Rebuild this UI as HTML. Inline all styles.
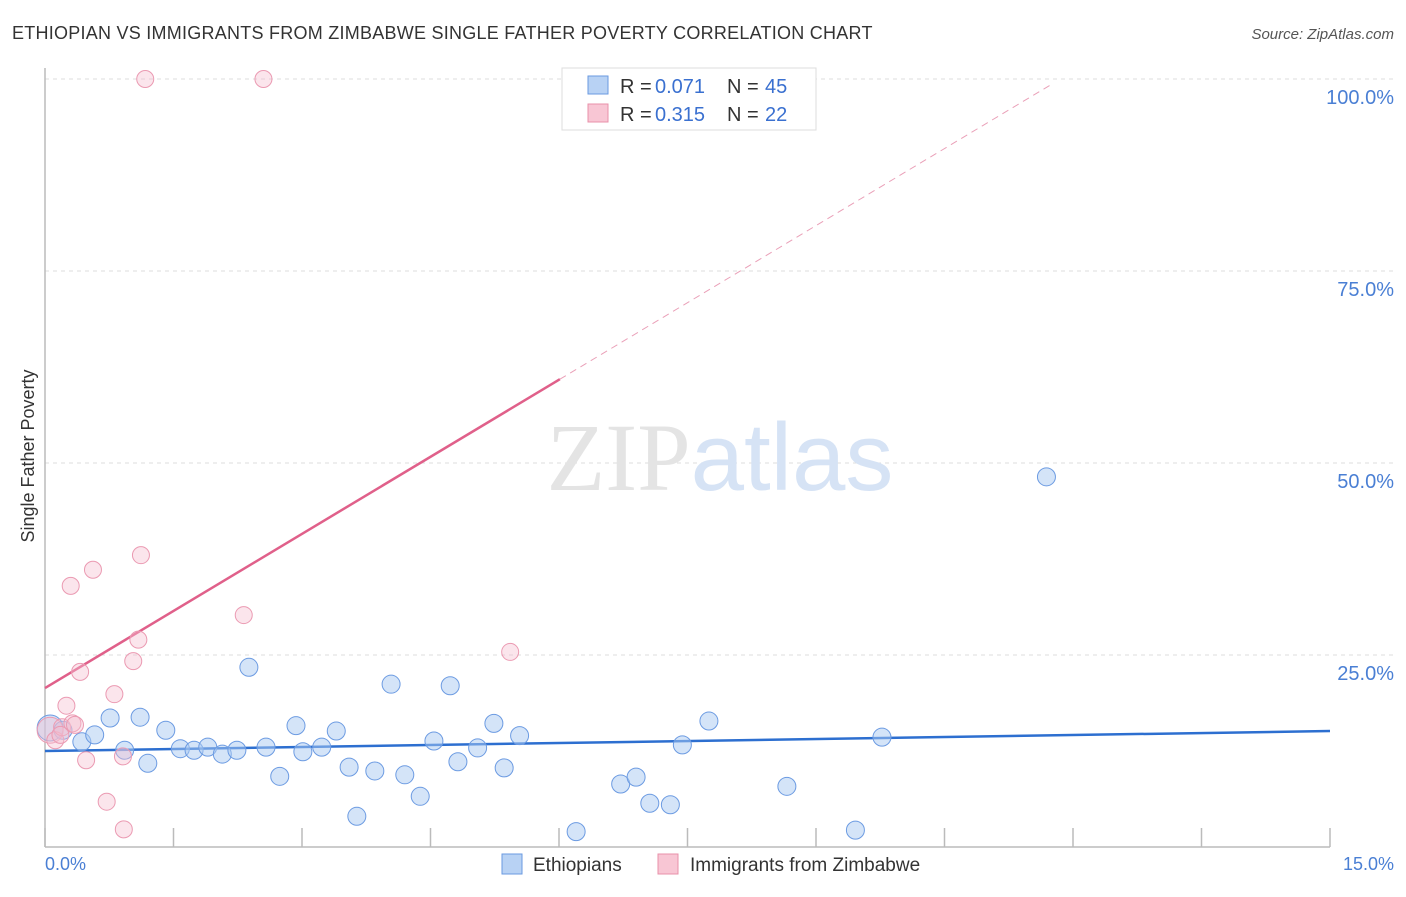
<!DOCTYPE html>
<html><head><meta charset="utf-8"><style>
body{margin:0;background:#fff;font-family:"Liberation Sans",sans-serif}
</style></head><body>
<svg id="chart" width="1406" height="892" xmlns="http://www.w3.org/2000/svg" style="font-family:'Liberation Sans',sans-serif">
<text x="12" y="39" font-size="18" letter-spacing="0.25" fill="#333">ETHIOPIAN VS IMMIGRANTS FROM ZIMBABWE SINGLE FATHER POVERTY CORRELATION CHART</text>
<text x="1394" y="39" font-size="15" fill="#555" text-anchor="end" font-style="italic">Source: ZipAtlas.com</text>
<g id="grid"></g>
<text x="720" y="490" font-size="96" text-anchor="middle" fill="#e4e4e4" font-family="Liberation Serif,serif">ZIP<tspan fill="#d6e3f5" font-family="Liberation Sans,sans-serif">atlas</tspan></text>
<line x1="45" y1="68" x2="45" y2="847" stroke="#bbb" stroke-width="1.5"/>
<line x1="45" y1="847" x2="1330" y2="847" stroke="#bbb" stroke-width="1.5"/>
<text transform="translate(34,456) rotate(-90)" font-size="18" fill="#333" text-anchor="middle">Single Father Poverty</text>
<text x="45" y="870" font-size="18" fill="#4a7fd4">0.0%</text>
<text x="1394" y="870" font-size="18" fill="#4a7fd4" text-anchor="end">15.0%</text>
<g id="ticks"></g>
<g id="lines"></g>
<g id="points"></g>
<g>
<rect x="562" y="68" width="254" height="62" fill="#fff" stroke="#ddd"/>
<rect x="588" y="76" width="20" height="18" fill="#b8d2f4" stroke="#6a9ae0"/>
<text x="620" y="93" font-size="20" fill="#333">R =</text>
<text x="655" y="93" font-size="20" fill="#3a70d0">0.071</text>
<text x="727" y="93" font-size="20" fill="#333">N =</text>
<text x="765" y="93" font-size="20" fill="#3a70d0">45</text>
<rect x="588" y="104" width="20" height="18" fill="#f8c6d4" stroke="#e890aa"/>
<text x="620" y="121" font-size="20" fill="#333">R =</text>
<text x="655" y="121" font-size="20" fill="#3a70d0">0.315</text>
<text x="727" y="121" font-size="20" fill="#333">N =</text>
<text x="765" y="121" font-size="20" fill="#3a70d0">22</text>
</g>
<g>
<rect x="502" y="854" width="20" height="20" fill="#b8d2f4" stroke="#6a9ae0"/>
<text x="533" y="871" font-size="19" fill="#333">Ethiopians</text>
<rect x="658" y="854" width="20" height="20" fill="#f8c6d4" stroke="#e890aa"/>
<text x="690" y="871" font-size="19" fill="#333">Immigrants from Zimbabwe</text>
</g>
</svg>
<script>
const yTicks=[25,50,75,100];
const yTickLabels=["25.0%","50.0%","75.0%","100.0%"];
const xTicks=[0,1.5,3,4.5,6,7.5,9,10.5,12,13.5,15];
const blueX=[0.06,0.21,0.43,0.58,0.76,0.93,1.11,1.20,1.41,1.58,1.74,1.90,2.07,2.24,2.38,2.58,2.74,2.93,3.01,3.23,3.40,3.55,3.85,4.04,4.20,4.38,4.54,4.73,4.82,5.05,5.24,5.36,5.54,3.64,6.20,6.72,6.90,7.06,7.30,7.44,7.75,8.66,9.46,9.77,11.69];
const blueY=[15.5,15.2,13.7,14.6,16.8,12.6,16.9,10.9,15.2,12.8,12.6,13.0,12.1,12.6,23.4,13.0,9.2,15.8,12.4,13.0,15.1,10.4,9.9,21.2,9.4,6.6,13.8,21.0,11.1,12.9,16.1,10.3,14.5,4.0,2.0,8.2,9.1,5.7,5.5,13.3,16.4,7.9,2.2,14.3,48.2];
const pinkX=[0.06,0.12,0.20,0.25,0.32,0.41,0.48,0.56,0.30,0.72,0.81,0.91,0.92,1.03,1.09,1.12,1.17,2.32,2.55,5.43,0.18,0.35];
const pinkY=[15.2,13.9,15.6,18.4,16.1,22.8,11.3,36.1,34.0,5.9,19.9,11.8,2.3,24.2,27.0,38.0,100,30.2,100,25.4,14.6,15.9];
const blueTrend=[12.5,15.1];
const pinkTrend=[20.7,6.69];
const NS="http://www.w3.org/2000/svg";
const X=v=>45+v/15*1285, Y=v=>847-v*7.68;
function mk(p,t,a){const e=document.createElementNS(NS,t);for(const k in a)e.setAttribute(k,a[k]);document.getElementById(p).appendChild(e);return e;}
yTicks.forEach((t,i)=>{
 const l=mk('grid','line',{x1:45,x2:1394,y1:Y(t),y2:Y(t),stroke:'#ddd','stroke-dasharray':'4,4'});
 
 
 const tx=mk('grid','text',{x:1394,y:Y(t)+25,'font-size':20,fill:'#4a7fd4','text-anchor':'end'});
 tx.textContent=yTickLabels[i];
 
 
});
xTicks.forEach(t=>{
 const l=mk('ticks','line',{x1:X(t),x2:X(t),y1:828,y2:847,stroke:'#bbb','stroke-width':1.5});
 
 
});
blueX.forEach((x,i)=>{
 const c=mk('points','circle',{cx:X(x),cy:Y(blueY[i]),r:i==0?13:9,fill:'rgba(170,202,242,0.5)',stroke:'#6c9be2','stroke-width':1});
 
 
});
pinkX.forEach((x,i)=>{
 const c=mk('points','circle',{cx:X(x),cy:Y(pinkY[i]),r:i==0?13:8.5,fill:'rgba(246,190,208,0.4)',stroke:'#eb9ab2','stroke-width':1});
 
 
});
let b=mk('lines','line',{x1:X(0),y1:Y(blueTrend[0]),x2:X(15),y2:Y(blueTrend[1]),stroke:'#2d6fd0','stroke-width':2.5});


let p1=mk('lines','line',{x1:X(0),y1:Y(pinkTrend[0]),x2:X(6.01),y2:Y(pinkTrend[0]+pinkTrend[1]*6.01),stroke:'#e0608a','stroke-width':2.5});


let p2=mk('lines','line',{x1:X(6.01),y1:Y(pinkTrend[0]+pinkTrend[1]*6.01),x2:X(11.73),y2:Y(pinkTrend[0]+pinkTrend[1]*11.73),stroke:'#eaa0b8','stroke-width':1,'stroke-dasharray':'7,5'});


</script>
</body></html>
